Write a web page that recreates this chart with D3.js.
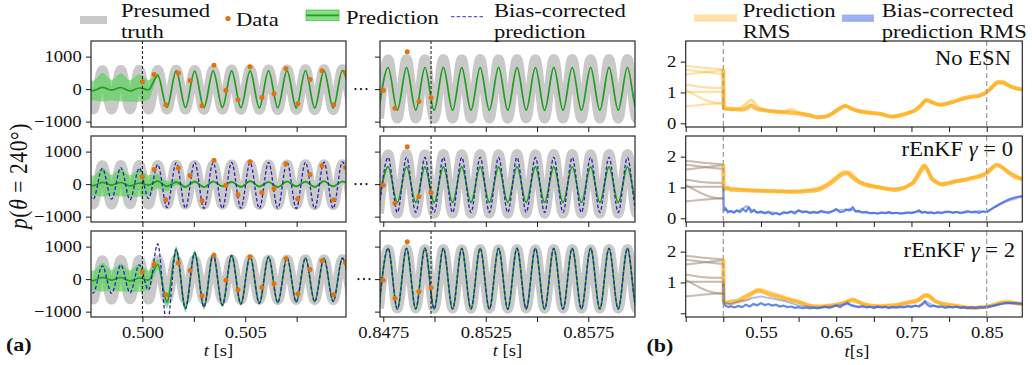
<!DOCTYPE html>
<html><head><meta charset="utf-8">
<script src="https://cdn.jsdelivr.net/npm/d3@7"></script>
<style>
body{margin:0;background:#fff}
svg{display:block}
text{font-family:"Liberation Serif","Times New Roman",Times,serif;}
</style>
</head><body>
<svg id="c" width="1032" height="365"></svg>
<script>
// ---------------- DATA ----------------
// extremum times of the pressure signal (left window, around t = 0.5 s)
const tL = [0.497154,0.497603,0.498052,0.498501,0.498950,0.499399,0.499848,0.500297,0.500746,0.501195,
            0.501644,0.502093,0.502542,0.502991,0.503440,0.503889,0.504338,0.504787,0.505236,0.505685,
            0.506134,0.506583,0.507032,0.507481,0.507930,0.508379,0.508828,0.509277,0.509726,0.510175];
// extremum times (right window, around t = 0.85 s)
const tM = [0.847288,0.847737,0.848186,0.848635,0.849084,0.849533,0.849982,0.850431,0.850880,0.851329,
            0.851778,0.852227,0.852676,0.853125,0.853574,0.854023,0.854472,0.854921,0.855370,0.855819,
            0.856268,0.856717,0.857166,0.857615,0.858064,0.858513,0.858962,0.859411,0.859860,0.860309];

// presumed truth
const truthL = [585,-625,580,-630,590,-620,585,-625,590,-630,595,-628,590,-635,598,-632,602,-638,600,-636,606,-642,604,-640,610,-646,608,-648,612,-650];
const truthM = [-900,920,-905,925,-902,915,-908,925,-905,920,-910,928,-905,920,-910,925,-902,920,-910,930,-905,925,-910,920,-905,928,-910,925,-905,920];

// Row 1 : No ESN
const greenL1 = [40,-45,55,-30,50,-55,35,-20,420,-560,560,-565,555,-568,560,-565,564,-570,560,-574,565,-570,568,-575,565,-578,570,-576,572,-580];
const hwL1    = [420,300,440,320,430,330,420,300,60,40,35,35,35,35,35,35,35,35,35,35,35,35,35,35,35,35,35,35,35,35];
const greenM1 = [-645,665,-650,660,-645,665,-650,668,-648,662,-650,665,-645,668,-650,662,-648,665,-652,668,-648,665,-650,662,-650,668,-648,665,-650,665];
const hwM1    = [25,25,25,25,25,25,25,25,25,25,25,25,25,25,25,25,25,25,25,25,25,25,25,25,25,25,25,25,25,25];

// Row 2 : rEnKF gamma = 0
const greenL2 = [40,-45,55,-30,50,-55,35,-30,90,-70,60,-85,75,-90,80,-65,70,-85,90,-75,65,-90,80,-70,75,-85,90,-70,80,-80];
const hwL2    = [420,300,440,320,430,330,420,300,220,150,90,60,50,45,40,40,40,40,40,40,40,40,40,40,40,40,40,40,40,40];
const blueL2  = [500,-470,480,-460,510,-480,490,-440,600,-720,660,-740,670,-742,662,-745,668,-740,665,-750,670,-745,675,-750,670,-755,675,-750,680,-755];
const greenM2 = [-560,530,-565,535,-560,528,-566,532,-562,530,-565,535,-560,530,-566,534,-562,530,-565,532,-560,535,-566,530,-562,532,-565,530,-560,534];
const hwM2    = [30,30,30,30,30,30,30,30,30,30,30,30,30,30,30,30,30,30,30,30,30,30,30,30,30,30,30,30,30,30];
const blueM2  = [-870,820,-872,825,-868,818,-870,822,-875,820,-870,825,-868,820,-872,822,-870,818,-875,825,-870,820,-872,822,-868,825,-870,820,-872,822];

// Row 3 : rEnKF gamma = 2
const greenL3 = [40,-45,55,-30,50,-55,35,-30,450,-700,880,-890,800,-850,760,-800,720,-760,700,-740,680,-720,660,-700,650,-690,640,-680,640,-670];
const hwL3    = [420,300,440,320,430,330,420,300,160,200,140,120,100,90,80,70,60,60,55,50,50,50,45,45,45,45,45,45,45,45];
const blueL3  = [420,-430,410,-440,430,-420,440,-330,1080,-1450,920,-910,810,-860,760,-805,725,-765,702,-742,682,-722,662,-702,652,-692,642,-682,642,-672];
const greenM3 = [-920,950,-925,948,-918,952,-922,950,-925,945,-920,950,-922,948,-925,952,-920,950,-922,948,-925,950,-920,952,-922,948,-925,950,-920,948];
const hwM3    = [25,25,25,25,25,25,25,25,25,25,25,25,25,25,25,25,25,25,25,25,25,25,25,25,25,25,25,25,25,25];
const blueM3  = [-915,945,-920,944,-914,948,-918,946,-920,941,-916,946,-918,944,-920,948,-916,946,-918,944,-920,946,-916,948,-918,944,-920,946,-916,944];

// observations (microphone data)
const dataTL = [0.50000,0.50057,0.50114,0.50175,0.50232,0.50290,0.50348,0.50406,0.50465,0.50523,0.50581,0.50640,0.50698,0.50756,0.50815,0.50873,0.50930,0.50988];
const dataVL = [225,450,-483,492,266,-513,738,-31,-329,686,-258,-145,625,-452,297,563,-483,511];
const dataTM = [0.84750,0.84807,0.84867,0.84924,0.84983];
const dataVM = [-31,-585,1148,-382,-268];

// tick labels
const yTicksA = [-1000, 0, 1000];
const xTicksL = [0.5, 0.5025, 0.505, 0.5075];
const xLabelsL = [0.5, 0.505];
const xTicksM = [0.8475, 0.85, 0.8525, 0.855, 0.8575];
const xLabelsM = [0.8475, 0.8525, 0.8575];
const yTicksB = [0, 1, 2];
const xTicksB = [0.45, 0.5, 0.55, 0.6, 0.65, 0.7, 0.75, 0.8, 0.85];
const xLabelsB = [0.55, 0.65, 0.75, 0.85];
const rowNames = [["No ESN"], ["rEnKF ", "γ", " = 0"], ["rEnKF ", "γ", " = 2"]];

// (b) RMS: ensemble members before assimilation
const preT = [0.45, 0.46, 0.47, 0.48, 0.49, 0.50];
const preMembers = [
  [1.86, 1.84, 1.81, 1.79, 1.77, 1.75],
  [1.58, 1.61, 1.64, 1.67, 1.70, 1.72],
  [1.74, 1.71, 1.68, 1.65, 1.62, 1.60],
  [1.25, 1.22, 1.18, 1.16, 1.15, 1.15],
  [1.02, 1.02, 1.02, 1.02, 1.02, 1.02],
  [1.08, 0.95, 0.82, 0.72, 0.66, 0.63],
  [0.55, 0.57, 0.60, 0.62, 0.64, 0.66]
];
// (b) row 1 prediction RMS
const rmsP1a = [[0.5,1.75],[0.5005,0.50],[0.505,0.48],[0.515,0.46],[0.525,0.44],[0.532,0.50],[0.537,0.58],[0.543,0.48],[0.555,0.42],[0.567,0.38],[0.58,0.36],[0.595,0.33],[0.605,0.30],[0.615,0.26],[0.625,0.20],[0.635,0.21],[0.645,0.32],[0.655,0.48],[0.662,0.56],[0.67,0.48],[0.68,0.40],[0.69,0.36],[0.70,0.33],[0.71,0.30],[0.718,0.24],[0.725,0.22],[0.735,0.26],[0.745,0.33],[0.755,0.42],[0.762,0.55],[0.77,0.76],[0.778,0.68],[0.788,0.60],[0.797,0.64],[0.806,0.70],[0.815,0.78],[0.828,0.86],[0.84,0.90],[0.85,1.02],[0.858,1.20],[0.865,1.34],[0.872,1.33],[0.878,1.24],[0.886,1.16],[0.897,1.10]];
const rmsP1b = [[0.5,1.10],[0.5005,0.46],[0.51,0.44],[0.52,0.47],[0.53,0.62],[0.537,0.76],[0.545,0.55],[0.555,0.44],[0.57,0.40],[0.58,0.38],[0.59,0.45],[0.60,0.36],[0.615,0.24],[0.625,0.19],[0.64,0.24],[0.65,0.42],[0.662,0.58],[0.672,0.45],[0.69,0.34],[0.71,0.29],[0.725,0.21],[0.74,0.28],[0.755,0.44],[0.77,0.74],[0.78,0.64],[0.79,0.60],[0.80,0.66],[0.815,0.76],[0.83,0.84],[0.845,0.92],[0.855,1.10],[0.865,1.30],[0.875,1.27],[0.885,1.15],[0.897,1.08]];
// (b) row 2
const rmsP2a = [[0.5,1.75],[0.5005,0.97],[0.505,0.99],[0.51,0.93],[0.52,0.92],[0.53,0.91],[0.545,0.89],[0.56,0.88],[0.575,0.87],[0.59,0.86],[0.605,0.87],[0.615,0.89],[0.625,0.92],[0.635,1.02],[0.645,1.18],[0.652,1.32],[0.66,1.45],[0.665,1.46],[0.672,1.32],[0.68,1.18],[0.69,1.08],[0.70,1.03],[0.71,0.99],[0.72,0.94],[0.728,0.92],[0.737,0.96],[0.745,1.05],[0.752,1.15],[0.758,1.35],[0.763,1.55],[0.767,1.70],[0.771,1.58],[0.776,1.32],[0.782,1.18],[0.79,1.10],[0.80,1.14],[0.81,1.20],[0.82,1.24],[0.83,1.30],[0.84,1.35],[0.85,1.46],[0.857,1.62],[0.863,1.72],[0.87,1.66],[0.877,1.52],[0.885,1.38],[0.897,1.27]];
const rmsP2b = [[0.5,1.10],[0.5005,0.92],[0.51,0.98],[0.53,0.93],[0.56,0.90],[0.59,0.88],[0.615,0.93],[0.635,1.08],[0.65,1.35],[0.66,1.52],[0.667,1.50],[0.68,1.22],[0.70,1.05],[0.72,0.97],[0.737,0.98],[0.752,1.18],[0.767,1.74],[0.776,1.36],[0.79,1.13],[0.81,1.22],[0.83,1.32],[0.85,1.50],[0.863,1.75],[0.877,1.55],[0.897,1.28]];
const rmsB2a = [[0.5,1.0],[0.5005,0.25],[0.503,0.32],[0.506,0.20],[0.51,0.24],[0.514,0.18],[0.518,0.26],[0.522,0.20],[0.526,0.30],[0.53,0.22],[0.534,0.35],[0.537,0.20],[0.541,0.27],[0.545,0.18],[0.55,0.22],[0.555,0.16],[0.56,0.20],[0.565,0.13],[0.57,0.17],[0.575,0.12],[0.58,0.20],[0.585,0.17],[0.59,0.22],[0.595,0.16],[0.60,0.26],[0.605,0.19],[0.61,0.22],[0.615,0.17],[0.62,0.21],[0.625,0.18],[0.63,0.24],[0.635,0.20],[0.64,0.18],[0.645,0.23],[0.65,0.30],[0.655,0.20],[0.66,0.22],[0.663,0.28],[0.668,0.25],[0.672,0.36],[0.676,0.22],[0.68,0.24],[0.685,0.19],[0.69,0.21],[0.695,0.16],[0.70,0.18],[0.705,0.15],[0.71,0.19],[0.715,0.17],[0.72,0.20],[0.725,0.16],[0.73,0.18],[0.735,0.15],[0.74,0.17],[0.745,0.19],[0.75,0.17],[0.755,0.20],[0.76,0.26],[0.764,0.18],[0.768,0.21],[0.772,0.17],[0.776,0.20],[0.78,0.16],[0.785,0.20],[0.79,0.17],[0.795,0.21],[0.80,0.22],[0.805,0.18],[0.81,0.21],[0.815,0.17],[0.82,0.20],[0.825,0.23],[0.83,0.19],[0.835,0.21],[0.84,0.18],[0.845,0.22],[0.85,0.20],[0.855,0.28],[0.86,0.36],[0.865,0.43],[0.87,0.50],[0.875,0.56],[0.88,0.62],[0.885,0.66],[0.89,0.69],[0.897,0.72]];
const rmsB2b = [[0.5005,0.30],[0.51,0.20],[0.52,0.24],[0.531,0.40],[0.54,0.22],[0.55,0.18],[0.56,0.22],[0.575,0.14],[0.59,0.20],[0.602,0.25],[0.62,0.18],[0.64,0.21],[0.65,0.26],[0.668,0.30],[0.68,0.20],[0.70,0.16],[0.72,0.18],[0.74,0.16],[0.76,0.22],[0.78,0.17],[0.80,0.20],[0.82,0.18],[0.84,0.24],[0.85,0.21],[0.86,0.34],[0.875,0.54],[0.897,0.70]];
// (b) row 3
const rmsP3a = [[0.5,1.75],[0.5005,0.40],[0.505,0.35],[0.51,0.38],[0.52,0.42],[0.53,0.55],[0.54,0.68],[0.548,0.72],[0.556,0.66],[0.565,0.58],[0.575,0.52],[0.585,0.45],[0.595,0.40],[0.605,0.33],[0.615,0.25],[0.625,0.22],[0.635,0.23],[0.645,0.26],[0.655,0.30],[0.665,0.38],[0.672,0.42],[0.68,0.36],[0.69,0.28],[0.70,0.24],[0.71,0.23],[0.72,0.25],[0.73,0.27],[0.74,0.33],[0.75,0.38],[0.76,0.44],[0.767,0.55],[0.772,0.58],[0.78,0.42],[0.79,0.32],[0.80,0.28],[0.81,0.24],[0.82,0.20],[0.83,0.18],[0.84,0.19],[0.85,0.21],[0.86,0.28],[0.87,0.35],[0.88,0.36],[0.89,0.32],[0.897,0.30]];
const rmsP3b = [[0.5,1.10],[0.5005,0.35],[0.51,0.30],[0.52,0.36],[0.535,0.50],[0.545,0.78],[0.555,0.74],[0.57,0.62],[0.585,0.50],[0.60,0.36],[0.62,0.22],[0.64,0.24],[0.66,0.34],[0.672,0.46],[0.685,0.30],[0.70,0.22],[0.72,0.22],[0.74,0.30],[0.755,0.36],[0.768,0.62],[0.778,0.45],[0.79,0.30],[0.81,0.22],[0.83,0.17],[0.85,0.20],[0.865,0.30],[0.877,0.37],[0.897,0.31]];
const rmsB3a = [[0.5,1.0],[0.5005,0.30],[0.503,0.24],[0.507,0.20],[0.51,0.23],[0.515,0.19],[0.52,0.24],[0.525,0.20],[0.53,0.28],[0.535,0.22],[0.54,0.30],[0.545,0.26],[0.55,0.33],[0.555,0.27],[0.56,0.30],[0.565,0.25],[0.57,0.28],[0.575,0.22],[0.58,0.25],[0.585,0.20],[0.59,0.22],[0.595,0.18],[0.60,0.20],[0.605,0.17],[0.61,0.19],[0.615,0.16],[0.62,0.18],[0.625,0.16],[0.63,0.19],[0.635,0.22],[0.64,0.18],[0.645,0.21],[0.65,0.26],[0.655,0.20],[0.66,0.28],[0.665,0.34],[0.67,0.25],[0.675,0.22],[0.68,0.20],[0.685,0.23],[0.69,0.19],[0.695,0.21],[0.70,0.17],[0.705,0.22],[0.71,0.19],[0.715,0.21],[0.72,0.17],[0.725,0.20],[0.73,0.18],[0.735,0.21],[0.74,0.19],[0.745,0.23],[0.75,0.20],[0.755,0.25],[0.76,0.22],[0.765,0.30],[0.768,0.38],[0.771,0.28],[0.775,0.22],[0.78,0.25],[0.785,0.20],[0.79,0.22],[0.795,0.18],[0.80,0.21],[0.805,0.19],[0.81,0.22],[0.815,0.18],[0.82,0.20],[0.825,0.17],[0.83,0.19],[0.835,0.17],[0.84,0.20],[0.845,0.18],[0.85,0.20],[0.855,0.22],[0.86,0.25],[0.865,0.28],[0.87,0.31],[0.875,0.33],[0.88,0.34],[0.885,0.33],[0.89,0.32],[0.897,0.31]];
const rmsB3b = [[0.5005,0.35],[0.51,0.30],[0.52,0.38],[0.53,0.42],[0.54,0.50],[0.55,0.55],[0.56,0.50],[0.57,0.45],[0.58,0.40],[0.59,0.33],[0.60,0.26],[0.61,0.22],[0.62,0.20],[0.63,0.18],[0.64,0.22],[0.65,0.24],[0.66,0.30],[0.67,0.28],[0.68,0.22],[0.70,0.20],[0.72,0.19],[0.74,0.22],[0.76,0.25],[0.768,0.40],[0.78,0.24],[0.80,0.21],[0.82,0.19],[0.84,0.19],[0.86,0.26],[0.875,0.34],[0.897,0.31]];

// ---------------- DRAWING ----------------
const SX = 1.13;
const C = {gray:"#c9c9c9", green:"#1f9e1f", band:"#4fd34f", blue:"#2a22b8", data:"#e0720f",
           orange:"#ffa500", rblue:"#4169e1", frame:"#2a2a2a"};
const svg = d3.select("#c");
svg.append("rect").attr("width",1032).attr("height",365).attr("fill","#fff");
const defs = svg.append("defs");
const rowTops = [41, 136, 231], rowH = 86;
const fmtK = d => d < 0 ? "\u2212" + Math.abs(d) : String(d);

function addText(parent, x, y, parts, size, anchor, weight, sx) {
  const t = parent.append("text")
    .attr("transform", `translate(${x},${y}) scale(${sx || SX},1)`)
    .attr("font-size", size).attr("text-anchor", anchor || "start").attr("fill", "#111");
  if (weight) t.attr("font-weight", weight);
  parts.forEach(p => {
    const s = t.append("tspan").text(typeof p === "string" ? p : p.t);
    if (p.i) s.attr("font-style", "italic");
  });
  return t;
}
function styleAxis(g, orient) {
  g.attr("font-family", null).attr("font-size", null).attr("color", "#1a1a1a");
  g.select(".domain").remove();
  g.selectAll(".tick line").attr("stroke-width", 1);
  const tx = g.selectAll(".tick text").attr("font-size", 16.5).attr("fill", "#111")
    .attr("transform", `scale(${SX},1)`);
  if (orient === "left") tx.attr("x", -9.3 / SX);
}
let clipN = 0;
function clipRect(x0, y0, w, h) {
  const id = "clip" + (clipN++);
  defs.append("clipPath").attr("id", id).append("rect").attr("x", x0).attr("y", y0).attr("width", w).attr("height", h);
  return `url(#${id})`;
}

// ----- panel (a) -----
const colsA = [
  {x0:91, x1:346, dom:[0.4975,0.5099], grid:tL, truth:truthL, dashT:0.5,
   rows:[{g:greenL1,hw:hwL1,b:null},{g:greenL2,hw:hwL2,b:blueL2},{g:greenL3,hw:hwL3,b:blueL3}],
   dT:dataTL, dV:dataVL, ticks:xTicksL, labels:xLabelsL, fmt:d3.format(".3f"), yLab:true},
  {x0:380, x1:635, dom:[0.84734,0.85978], grid:tM, truth:truthM, dashT:0.84983,
   rows:[{g:greenM1,hw:hwM1,b:null},{g:greenM2,hw:hwM2,b:blueM2},{g:greenM3,hw:hwM3,b:blueM3}],
   dT:dataTM, dV:dataVM, ticks:xTicksM, labels:xLabelsM, fmt:d3.format(".4f"), yLab:false}
];

colsA.forEach(col => {
  const xs = d3.scaleLinear().domain(col.dom).range([col.x0, col.x1]);
  for (let r = 0; r < 3; r++) {
    const top = rowTops[r];
    const y = d3.scaleLinear().domain([-1165, 1480]).range([top + rowH, top]);
    const g = svg.append("g");
    const inner = g.append("g").attr("clip-path", clipRect(col.x0, top, col.x1 - col.x0, rowH));
    const line = d3.line().x(d => xs(d[0])).y(d => y(d[1])).curve(d3.curveMonotoneX);
    const area = d3.area().x(d => xs(d[0])).y0(d => y(d[1] - d[2])).y1(d => y(d[1] + d[2])).curve(d3.curveMonotoneX);
    const pts = arr => arr.map((v, i) => [col.grid[i], v]);
    inner.append("path").attr("d", line(pts(col.truth))).attr("fill", "none")
      .attr("stroke", C.gray).attr("stroke-width", 10);
    const row = col.rows[r];
    inner.append("path").attr("d", area(row.g.map((v, i) => [col.grid[i], v, row.hw[i]])))
      .attr("fill", C.band).attr("fill-opacity", 0.62).attr("stroke", "none");
    inner.append("path").attr("d", line(pts(row.g))).attr("fill", "none")
      .attr("stroke", C.green).attr("stroke-width", 1.7);
    if (row.b) inner.append("path").attr("d", line(pts(row.b))).attr("fill", "none")
      .attr("stroke", C.blue).attr("stroke-width", 1.3).attr("stroke-dasharray", "3.5,2.2");
    inner.append("line").attr("x1", xs(col.dashT)).attr("x2", xs(col.dashT))
      .attr("y1", top).attr("y2", top + rowH).attr("stroke", "#111").attr("stroke-width", 1)
      .attr("stroke-dasharray", "3,2");
    inner.selectAll("circle.d").data(col.dT.map((t, i) => [t, col.dV[i]])).enter().append("circle")
      .attr("cx", d => xs(d[0])).attr("cy", d => y(d[1])).attr("r", 2.5).attr("fill", C.data);
    g.append("rect").attr("x", col.x0).attr("y", top).attr("width", col.x1 - col.x0).attr("height", rowH)
      .attr("fill", "none").attr("stroke", C.frame).attr("stroke-width", 1.2);
    const ay = g.append("g").attr("transform", `translate(${col.x0},0)`)
      .call(d3.axisLeft(y).tickValues(yTicksA).tickSize(5).tickPadding(4.3)
        .tickFormat(col.yLab ? fmtK : () => ""));
    styleAxis(ay, "left");
    const ax = g.append("g").attr("transform", `translate(0,${top + rowH})`)
      .call(d3.axisBottom(xs).tickValues(col.ticks).tickSize(5).tickPadding(4.3)
        .tickFormat(d => (r === 2 && col.labels.some(v => Math.abs(v - d) < 1e-9)) ? col.fmt(d) : ""));
    styleAxis(ax, "bottom");
  }
});
// ellipsis between the two windows
for (let r = 0; r < 3; r++) {
  const y = d3.scaleLinear().domain([-1165, 1480]).range([rowTops[r] + rowH, rowTops[r]]);
  const off = r === 2 ? 3 : 0;
  [355.5, 361, 366.5].forEach(x => svg.append("circle").attr("cx", x + off).attr("cy", y(0)).attr("r", 1.1).attr("fill", "#111"));
}

// ----- panel (b) -----
const xb = d3.scaleLinear().domain([0.45, 0.8973]).range([685.7, 1022.3]);
const rmsRows = [
  {pa:rmsP1a, pb:rmsP1b, ba:null, bb:null},
  {pa:rmsP2a, pb:rmsP2b, ba:rmsB2a, bb:rmsB2b},
  {pa:rmsP3a, pb:rmsP3b, ba:rmsB3a, bb:rmsB3b}
];
const nameX = [1011, 1013, 1015], nameY = [65, 156, 256.5];
for (let r = 0; r < 3; r++) {
  const top = rowTops[r];
  const y = d3.scaleLinear().domain([-0.12, 2.67]).range([top + rowH, top]);
  const g = svg.append("g");
  const inner = g.append("g").attr("clip-path", clipRect(685.7, top, 1022.3 - 685.7, rowH));
  const lineS = d3.line().x(d => xb(d[0])).y(d => y(d[1])).curve(d3.curveMonotoneX);
  const lineL = d3.line().x(d => xb(d[0])).y(d => y(d[1]));
  preMembers.forEach(m => {
    const p = m.map((v, i) => [preT[i], v]);
    inner.append("path").attr("d", lineS(p)).attr("fill", "none").attr("stroke", C.orange)
      .attr("stroke-width", 2.2).attr("stroke-opacity", 0.35);
    if (r > 0) inner.append("path").attr("d", lineS(p)).attr("fill", "none").attr("stroke", C.rblue)
      .attr("stroke-width", 2).attr("stroke-opacity", 0.3);
  });
  const R = rmsRows[r];
  inner.append("path").attr("d", lineS(R.pb)).attr("fill", "none").attr("stroke", C.orange)
    .attr("stroke-width", 3).attr("stroke-opacity", 0.4);
  inner.append("path").attr("d", lineS(R.pa)).attr("fill", "none").attr("stroke", C.orange)
    .attr("stroke-width", 4).attr("stroke-opacity", 0.7);
  if (R.ba) {
    inner.append("path").attr("d", lineL(R.bb)).attr("fill", "none").attr("stroke", C.rblue)
      .attr("stroke-width", 1.8).attr("stroke-opacity", 0.45);
    inner.append("path").attr("d", lineL(R.ba)).attr("fill", "none").attr("stroke", C.rblue)
      .attr("stroke-width", 2.2).attr("stroke-opacity", 0.8);
  }
  [0.5, 0.85].forEach(t => inner.append("line").attr("x1", xb(t)).attr("x2", xb(t))
    .attr("y1", top).attr("y2", top + rowH).attr("stroke", "#9a9a9a").attr("stroke-width", 1.2)
    .attr("stroke-dasharray", "5,3"));
  g.append("rect").attr("x", 685.7).attr("y", top).attr("width", 1022.3 - 685.7).attr("height", rowH)
    .attr("fill", "none").attr("stroke", C.frame).attr("stroke-width", 1.2);
  const ay = g.append("g").attr("transform", "translate(685.7,0)")
    .call(d3.axisLeft(y).tickValues(yTicksB).tickSize(5).tickPadding(4.3)
      .tickFormat(d => (r === 2 && d === 0) ? "" : String(d)));
  styleAxis(ay, "left");
  const ax = g.append("g").attr("transform", `translate(0,${top + rowH})`)
    .call(d3.axisBottom(xb).tickValues(xTicksB).tickSize(5).tickPadding(4.3)
      .tickFormat(d => (r === 2 && xLabelsB.some(v => Math.abs(v - d) < 1e-9)) ? d3.format(".2f")(d) : ""));
  styleAxis(ax, "bottom");
  const nm = rowNames[r];
  addText(svg, nameX[r], nameY[r], nm.length === 1 ? nm : [nm[0], {t:nm[1], i:true}, nm[2]], 20, "end");
}

// ----- legends -----
const LF = 19, LSX = 1.19;               // legend font size and horizontal scale
const L1 = 17.3, L2 = 38.4, L0 = 25.5;   // baselines: first line, second line, single line
const lg = svg.append("g");
lg.append("line").attr("x1", 80).attr("x2", 107).attr("y1", 20).attr("y2", 20).attr("stroke", C.gray).attr("stroke-width", 8);
addText(lg, 121, L1, ["Presumed"], LF, "start", null, LSX);
addText(lg, 121, L2, ["truth"], LF, "start", null, LSX);
lg.append("circle").attr("cx", 228).attr("cy", 18.5).attr("r", 2.6).attr("fill", C.data);
addText(lg, 236, L0, ["Data"], LF, "start", null, LSX);
lg.append("rect").attr("x", 306).attr("y", 10).attr("width", 33).attr("height", 10.5)
  .attr("fill", C.band).attr("fill-opacity", 0.7).attr("stroke", C.green).attr("stroke-opacity", 0.5);
lg.append("line").attr("x1", 306).attr("x2", 339).attr("y1", 15.3).attr("y2", 15.3).attr("stroke", C.green).attr("stroke-width", 1.8);
addText(lg, 346, 23.5, ["Prediction"], LF, "start", null, LSX);
lg.append("line").attr("x1", 451).attr("x2", 483).attr("y1", 16.7).attr("y2", 16.7).attr("stroke", "#5a55d0")
  .attr("stroke-width", 1.3).attr("stroke-dasharray", "3.5,2.2");
addText(lg, 494, L1, ["Bias-corrected"], LF, "start", null, LSX);
addText(lg, 494, L2, ["prediction"], LF, "start", null, LSX);
[15.5, 17.3, 19.1, 20.9].forEach(yy => lg.append("line").attr("x1", 694).attr("x2", 737).attr("y1", yy).attr("y2", yy)
  .attr("stroke", C.orange).attr("stroke-width", 1.8).attr("stroke-opacity", 0.35));
addText(lg, 742.7, L1, ["Prediction"], LF, "start", null, LSX);
addText(lg, 742.7, L2, ["RMS"], LF, "start", null, LSX);
[15.5, 17.3, 19.1, 20.9].forEach(yy => lg.append("line").attr("x1", 842).attr("x2", 874).attr("y1", yy).attr("y2", yy)
  .attr("stroke", C.rblue).attr("stroke-width", 1.8).attr("stroke-opacity", 0.55));
addText(lg, 881.7, L1, ["Bias-corrected"], LF, "start", null, LSX);
addText(lg, 881.7, L2, ["prediction RMS"], LF, "start", null, LSX);

// ----- axis labels -----
addText(svg, 218.5, 355.5, [{t:"t", i:true}, " [s]"], 16.5, "middle");
addText(svg, 507.5, 355.5, [{t:"t", i:true}, " [s]"], 16.5, "middle");
addText(svg, 857, 357, [{t:"t", i:true}, "[s]"], 16.5, "middle");
addText(svg, 6, 351, ["(a)"], 19.5, "start", "bold");
addText(svg, 646.5, 352, ["(b)"], 19.5, "start", "bold");
const yl = svg.append("text").attr("transform", `translate(27,176) scale(${SX},1) rotate(-90)`)
  .attr("font-size", 21.5).attr("text-anchor", "middle").attr("fill", "#111").attr("letter-spacing", 0.6);
yl.append("tspan").attr("font-style", "italic").text("p");
yl.append("tspan").text("(");
yl.append("tspan").attr("font-style", "italic").text("θ");
yl.append("tspan").text(" = 240°)");
</script>
</body></html>
